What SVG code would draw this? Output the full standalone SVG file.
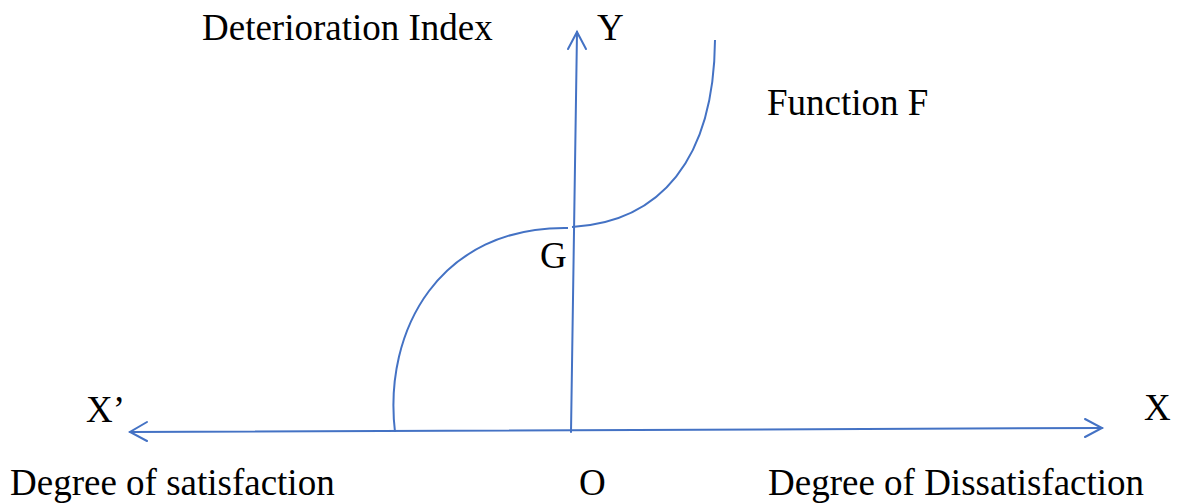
<svg xmlns="http://www.w3.org/2000/svg" width="1178" height="503" viewBox="0 0 1178 503">
<style>
.ax{fill:none;stroke:#4472C4;stroke-width:2;stroke-linecap:round}
.cv{fill:none;stroke:#4472C4;stroke-width:2}
.ah{fill:none;stroke:#4472C4;stroke-width:2;stroke-linecap:round;stroke-linejoin:miter}
text{font-family:"Liberation Serif","Times New Roman",serif;font-size:37px;fill:#000}
</style>
<rect width="1178" height="503" fill="#fff"/>
<g id="connectors">
  <g id="y-axis">
    <line class="ax" x1="571" y1="432" x2="577" y2="32"/>
    <polyline class="ah" points="568,49 577,32 586,49"/>
  </g>
  <g id="x-axis">
    <line class="ax" x1="130" y1="432" x2="1102" y2="428"/>
    <polyline class="ah" points="147,422 130,432 147,441"/>
    <polyline class="ah" points="1085,419 1102,428 1085,437"/>
  </g>
</g>
<g id="curve-left">
  <path class="cv" d="M395,432 C383,330 440,226 568,228"/>
</g>
<g id="curve-right">
  <path class="cv" d="M572,227 C660,222 714,160 715,40"/>
</g>
<g id="labels">
  <text x="202" y="40">Deterioration Index</text>
  <text x="597" y="40">Y</text>
  <text x="767" y="115">Function F</text>
  <text x="540" y="268">G</text>
  <text x="86" y="422">X’</text>
  <text x="1144" y="420">X</text>
  <text x="10" y="495">Degree of satisfaction</text>
  <text x="579" y="495">O</text>
  <text x="768" y="495">Degree of Dissatisfaction</text>
</g>
</svg>
